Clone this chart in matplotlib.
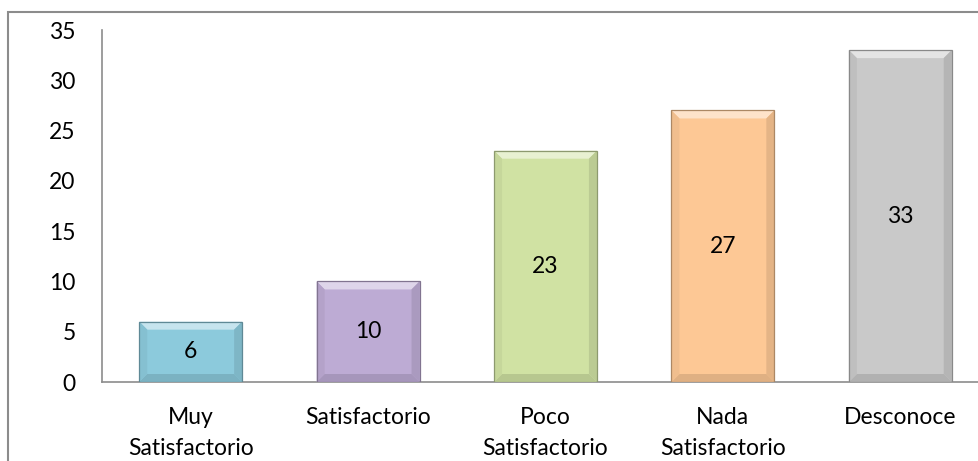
import matplotlib
matplotlib.use("Agg")
import matplotlib.pyplot as plt
import matplotlib.colors as mcolors
from matplotlib.patches import Polygon, Rectangle
from matplotlib.transforms import IdentityTransform

categories = ["Muy\nSatisfactorio", "Satisfactorio", "Poco\nSatisfactorio",
              "Nada\nSatisfactorio", "Desconoce"]
values = [6, 10, 23, 27, 33]
bar_colors = ["#8ccadc", "#bdabd4", "#d0e2a3", "#fdc895", "#c9c9c9"]
y_ticks = [0, 5, 10, 15, 20, 25, 30, 35]

W, H = 979, 461
plt.rcParams["font.family"] = ["Lato", "DejaVu Sans"]

fig = plt.figure(figsize=(W / 100, H / 100), dpi=100)
ax = fig.add_axes([102 / W, 1 - 382 / H, (989 - 102) / W, (382 - 30) / H])

x = list(range(len(categories)))
bars = ax.bar(x, values, width=0.58, color=bar_colors, zorder=2)

ax.set_xlim(-0.5, len(categories) - 0.5)
ax.set_ylim(0, 35)
ax.set_yticks(y_ticks)
ax.set_xticks(x)
ax.set_xticklabels(categories, fontsize=16.5, linespacing=1.6)
ax.tick_params(axis="y", length=0, pad=19, labelsize=16.5)
ax.tick_params(axis="x", length=0, pad=18)
for s in ("top", "right"):
    ax.spines[s].set_visible(False)
for s in ("left", "bottom"):
    ax.spines[s].set_color("#8c8c8c")
    ax.spines[s].set_linewidth(1.2)


def shade(c, f):
    r, g, b = mcolors.to_rgb(c)
    if f >= 1:
        t = f - 1
        return (r + (1 - r) * t, g + (1 - g) * t, b + (1 - b) * t)
    return (r * f, g * f, b * f)


# bevelled faces around each bar, sized in pixels from the bar's own extent
fig.canvas.draw()
d = 8
for rect, col, v in zip(bars.patches, bar_colors, values):
    (x0, y0), (x1, y1) = ax.transData.transform(
        [(rect.get_x(), 0), (rect.get_x() + rect.get_width(), rect.get_height())])
    faces = [
        ([(x0, y1), (x1, y1), (x1 - d, y1 - d), (x0 + d, y1 - d)], shade(col, 1.5)),
        ([(x0, y0), (x1, y0), (x1 - d, y0 + d), (x0 + d, y0 + d)], shade(col, 0.88)),
        ([(x0, y0), (x0 + d, y0 + d), (x0 + d, y1 - d), (x0, y1)], shade(col, 0.95)),
        ([(x1, y0), (x1 - d, y0 + d), (x1 - d, y1 - d), (x1, y1)], shade(col, 0.9)),
    ]
    for pts, fc in faces:
        ax.add_patch(Polygon(pts, closed=True, transform=IdentityTransform(),
                             facecolor=fc, edgecolor="none", zorder=3))
    ax.add_patch(Rectangle((x0, y0), x1 - x0, y1 - y0, transform=IdentityTransform(),
                           fill=False, edgecolor=shade(col, 0.68), linewidth=0.9, zorder=4))
    ax.text(rect.get_x() + rect.get_width() / 2, v / 2, str(v), ha="center",
            va="center", fontsize=16.5, color="black", zorder=5)

# chart frame
fig.patches.append(Rectangle((8 / W, -0.1), 1.2, 1 - 12 / H + 0.1, transform=fig.transFigure,
                             fill=False, edgecolor="#8c8c8c", linewidth=1.5))

fig.savefig("out.png", dpi=100)
